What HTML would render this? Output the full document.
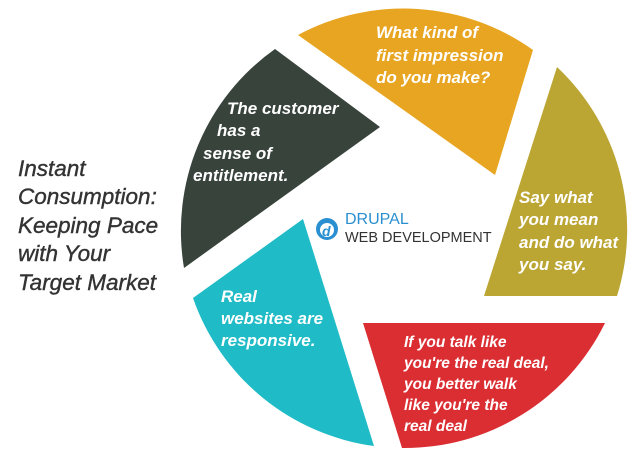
<!DOCTYPE html>
<html><head><meta charset="utf-8"><style>
html,body{margin:0;padding:0;background:#fff;}
svg{display:block;}
.w{font-family:"Liberation Sans",sans-serif;font-style:italic;font-weight:bold;fill:#fff;}
.l{font-family:"Liberation Sans",sans-serif;font-style:italic;fill:#333;font-size:22.5px;stroke:#333;stroke-width:0.4;}
</style></head><body>
<svg width="638" height="450" viewBox="0 0 638 450" xmlns="http://www.w3.org/2000/svg">
<path d="M298,35 A223,223 0 0 1 533,50 L495,175 Z" fill="#E8A521"/>
<path d="M557,67 A223,223 0 0 1 617,296 L484,296 Z" fill="#BBA533"/>
<path d="M605,323 A223,223 0 0 1 402,448 L363,323 Z" fill="#DA2E33"/>
<path d="M374,446 A223,223 0 0 1 193,298 L303,219 Z" fill="#1FBBC6"/>
<path d="M184,268 A223,223 0 0 1 275,49 L380,127 Z" fill="#37433B"/>
<g class="w" font-size="17">
<text x="376" y="38">What kind of</text>
<text x="376" y="61">first impression</text>
<text x="376" y="83">do you make?</text>
<text x="227" y="114">The customer</text>
<text x="217" y="136">has a</text>
<text x="203" y="159">sense of</text>
<text x="193" y="181">entitlement.</text>
<text x="519" y="203">Say what</text>
<text x="519" y="225">you mean</text>
<text x="519" y="248">and do what</text>
<text x="519" y="270">you say.</text>
<text x="221" y="302">Real</text>
<text x="221" y="324">websites are</text>
<text x="221" y="346">responsive.</text>
</g>
<g class="w" font-size="15.5">
<text x="404" y="347">If you talk like</text>
<text x="404" y="368">you're the real deal,</text>
<text x="404" y="389">you better walk</text>
<text x="404" y="410">like you're the</text>
<text x="404" y="431">real deal</text>
</g>
<circle cx="327" cy="229" r="11" fill="#2a8fd0"/>
<circle cx="327" cy="230" r="7" fill="#fff"/>
<text x="322" y="236" font-family="Liberation Sans,sans-serif" font-style="italic" font-weight="bold" font-size="14" fill="#2a8fd0">d</text>
<text x="345" y="224" font-family="Liberation Sans,sans-serif" font-size="16" fill="#2a8fd0">DRUPAL</text>
<text x="345" y="242" font-family="Liberation Sans,sans-serif" font-size="14.5" fill="#333">WEB DEVELOPMENT</text>
<g class="l">
<text x="18" y="176">Instant</text>
<text x="18" y="204">Consumption:</text>
<text x="18" y="233">Keeping Pace</text>
<text x="18" y="261">with Your</text>
<text x="18" y="290">Target Market</text>
</g>
</svg>
</body></html>
